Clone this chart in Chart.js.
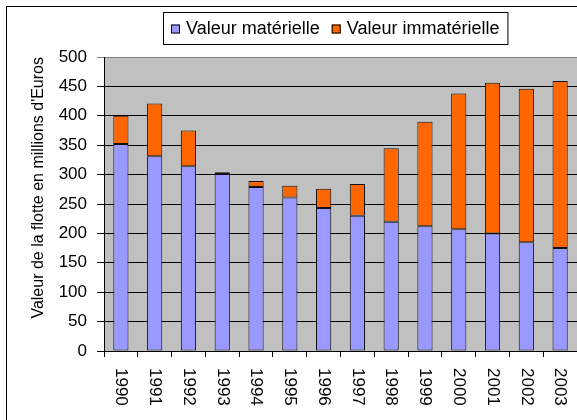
<!DOCTYPE html>
<html>
<head>
<meta charset="utf-8">
<script src="https://cdn.jsdelivr.net/npm/chart.js@4/dist/chart.umd.min.js"></script>
<style>
  html, body { margin: 0; padding: 0; background: #fff; }
  canvas { display: block; }
</style>
</head>
<body>
<canvas id="c" width="577" height="420"></canvas>
<script>
const categories = ['1990','1991','1992','1993','1994','1995','1996','1997','1998','1999','2000','2001','2002','2003'];
const materielle = [352, 331, 314, 301, 279, 261, 243, 230, 220, 212, 207, 200, 185, 175];
const immaterielle = [48, 90, 61, 3, 10, 20, 33, 54, 125, 178, 231, 256, 261, 284];
const seriesNames = ['Valeur matérielle', 'Valeur immatérielle'];
const seriesColors = ['#9999FF', '#FF6600'];
const yTitle = "Valeur de la flotte en millions d'Euros";

const FONT = "'Liberation Sans', Arial, sans-serif";

const decorPlugin = {
  id: 'decor',
  beforeDraw(chart) {
    const ctx = chart.ctx;
    const a = chart.chartArea;
    ctx.save();
    ctx.fillStyle = '#ffffff';
    ctx.fillRect(0, 0, chart.width, chart.height);
    ctx.strokeStyle = '#000';
    ctx.lineWidth = 1;
    ctx.strokeRect(6.5, 6.5, chart.width + 20, chart.height + 20);
    ctx.fillStyle = '#C0C0C0';
    ctx.fillRect(a.left, a.top, a.right - a.left, a.bottom - a.top);
    ctx.restore();
  },
  afterDraw(chart) {
    const ctx = chart.ctx;
    const xs = chart.scales.x;
    ctx.save();
    // rotated x labels (clockwise)
    ctx.font = '17px ' + FONT;
    ctx.fillStyle = '#000';
    ctx.textAlign = 'left';
    ctx.textBaseline = 'middle';
    chart.data.labels.forEach((lab, i) => {
      const px = xs.getPixelForValue(i);
      ctx.save();
      ctx.translate(px, xs.top + 17);
      ctx.rotate(Math.PI / 2);
      ctx.fillText(lab, 0, 0);
      ctx.restore();
    });
    // legend
    ctx.font = '18px ' + FONT;
    const sq = 9, gap = 6, itemGap = 12, pad = 8;
    const items = chart.data.datasets.map(d => ({ text: d.label, color: d.backgroundColor, w: ctx.measureText(d.label).width }));
    let total = pad * 2;
    items.forEach((it, i) => { total += sq + gap + it.w + (i ? itemGap : 0); });
    const cx = 335, top = 12, h = 32;
    const left = Math.round(cx - total / 2);
    ctx.fillStyle = '#fff';
    ctx.fillRect(left, top, total, h);
    ctx.strokeStyle = '#000';
    ctx.lineWidth = 1;
    ctx.strokeRect(left + 0.5, top + 0.5, total, h);
    let x = left + pad;
    const cy = top + h / 2;
    items.forEach((it, i) => {
      if (i) x += itemGap;
      ctx.fillStyle = it.color;
      ctx.fillRect(x, cy - sq / 2 + 1, sq, sq);
      ctx.strokeStyle = '#000';
      ctx.strokeRect(x + 0.5, cy - sq / 2 + 1.5, sq - 1, sq - 1);
      x += sq + gap;
      ctx.fillStyle = '#000';
      ctx.textAlign = 'left';
      ctx.textBaseline = 'middle';
      ctx.fillText(it.text, x, cy + 1);
      x += it.w;
    });
    ctx.restore();
  }
};

new Chart(document.getElementById('c'), {
  type: 'bar',
  data: {
    labels: categories,
    datasets: [
      { label: seriesNames[0], data: materielle, backgroundColor: seriesColors[0], borderColor: '#111', borderWidth: 1, borderSkipped: false },
      { label: seriesNames[1], data: immaterielle, backgroundColor: seriesColors[1], borderColor: '#111', borderWidth: 1, borderSkipped: false }
    ]
  },
  options: {
    responsive: false,
    animation: false,
    devicePixelRatio: 1,
    layout: { padding: { top: 57, left: 0, right: 0, bottom: 0 } },
    datasets: { bar: { categoryPercentage: 1, barPercentage: 0.45 } },
    plugins: { legend: { display: false }, tooltip: { enabled: false }, title: { display: false } },
    scales: {
      x: {
        stacked: true,
        afterFit(s) { s.height = 69; },
        grid: { drawOnChartArea: false, drawTicks: true, tickLength: 6, color: '#000', offset: true },
        border: { color: '#000', width: 1 },
        ticks: { display: false }
      },
      y: {
        stacked: true,
        min: 0, max: 500,
        afterFit(s) { s.width = 104; },
        ticks: { stepSize: 50, color: '#000', font: { family: FONT, size: 17 }, padding: 10 },
        grid: { color: (c) => (c.tick && c.tick.value === 500 ? '#808080' : '#000'), lineWidth: 1, tickLength: 7 },
        border: { color: '#000', width: 1 },
        title: { display: true, text: yTitle, align: 'end', color: '#000', font: { family: FONT, size: 16 }, padding: { top: 29, bottom: 0 } }
      }
    }
  },
  plugins: [decorPlugin]
});
</script>
</body>
</html>
